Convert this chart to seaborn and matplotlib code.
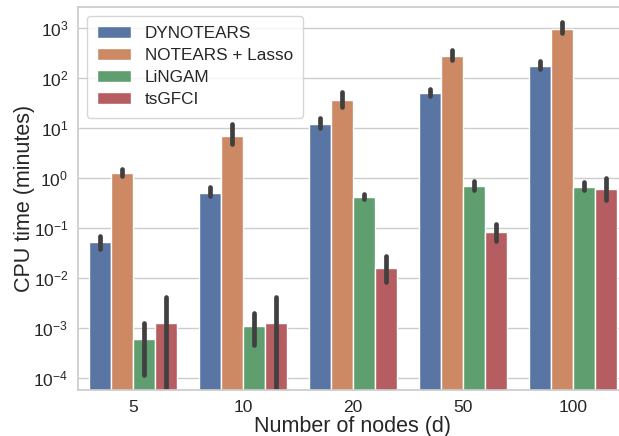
import pandas as pd
import seaborn as sns
import matplotlib.pyplot as plt
import numpy as np

# data (minutes), bar value and error bar low / high
nodes = ['5', '10', '20', '50', '100']
methods = ['DYNOTEARS', 'NOTEARS + Lasso', 'LiNGAM', 'tsGFCI']

dynotears = [0.051, 0.50, 12.0, 49.0, 174.0]
dynotears_lo = [0.037, 0.43, 10.0, 44.0, 148.0]
dynotears_hi = [0.068, 0.65, 15.8, 59.0, 219.0]

notears = [1.24, 6.9, 36.0, 275.0, 955.0]
notears_lo = [1.06, 4.8, 25.7, 224.0, 776.0]
notears_hi = [1.50, 12.0, 51.0, 355.0, 1290.0]

lingam = [6.0e-4, 1.1e-3, 0.41, 0.69, 0.66]
lingam_lo = [1.15e-4, 4.6e-4, 0.37, 0.575, 0.575]
lingam_hi = [1.23e-3, 2.0e-3, 0.47, 0.85, 0.81]

tsgfci = [1.22e-3, 1.22e-3, 0.0158, 0.082, 0.60]
tsgfci_lo = [1e-6, 1e-6, 8.1e-3, 0.054, 0.36]
tsgfci_hi = [4.1e-3, 4.1e-3, 0.027, 0.12, 0.98]

yticks = [1e-4, 1e-3, 1e-2, 1e-1, 1e0, 1e1, 1e2, 1e3]

# long table: three rows per bar (low, value, high)
# median -> bar height, full percentile interval -> error bar
rows = []
series = [(dynotears, dynotears_lo, dynotears_hi),
          (notears, notears_lo, notears_hi),
          (lingam, lingam_lo, lingam_hi),
          (tsgfci, tsgfci_lo, tsgfci_hi)]
for m, (val, lo, hi) in zip(methods, series):
    for i, n in enumerate(nodes):
        for v in (lo[i], val[i], hi[i]):
            rows.append({'nodes': n, 'method': m, 'time': v})
df = pd.DataFrame(rows)

sns.set_theme(style='whitegrid')
plt.rcParams['font.family'] = ['Liberation Sans', 'DejaVu Sans']
plt.rcParams['mathtext.fontset'] = 'custom'
plt.rcParams['mathtext.rm'] = 'Liberation Sans'

fig = plt.figure(figsize=(6.19, 4.36), dpi=100)
ax = fig.add_axes([0.126, 0.1055, 0.8885, 0.8785])

sns.barplot(data=df, x='nodes', y='time', hue='method', order=nodes,
            hue_order=methods, estimator=np.median, errorbar=('pi', 100),
            ax=ax,
            err_kws={'linewidth': 3.4, 'color': '.25', 'solid_capstyle': 'round'})

# log axis after drawing (median and min/max do not change)
ax.set_yscale('log')
ax.set_yticks(yticks)
ax.yaxis.set_minor_locator(plt.NullLocator())
ax.set_ylim(5.7e-5, 2600)
ax.set_xlim(-0.5, 4.5)
ax.set_xlabel('Number of nodes (d)', fontsize=15.5, labelpad=1)
ax.set_ylabel('CPU time (minutes)', fontsize=15.5, labelpad=-1.5)
ax.tick_params(axis='both', labelsize=12.5, length=0, pad=7)

sns.move_legend(ax, 'upper left', title=None, frameon=True, fontsize=12.3,
                labelspacing=0.42, borderpad=0.6)

fig.savefig('out.png', dpi=100)
